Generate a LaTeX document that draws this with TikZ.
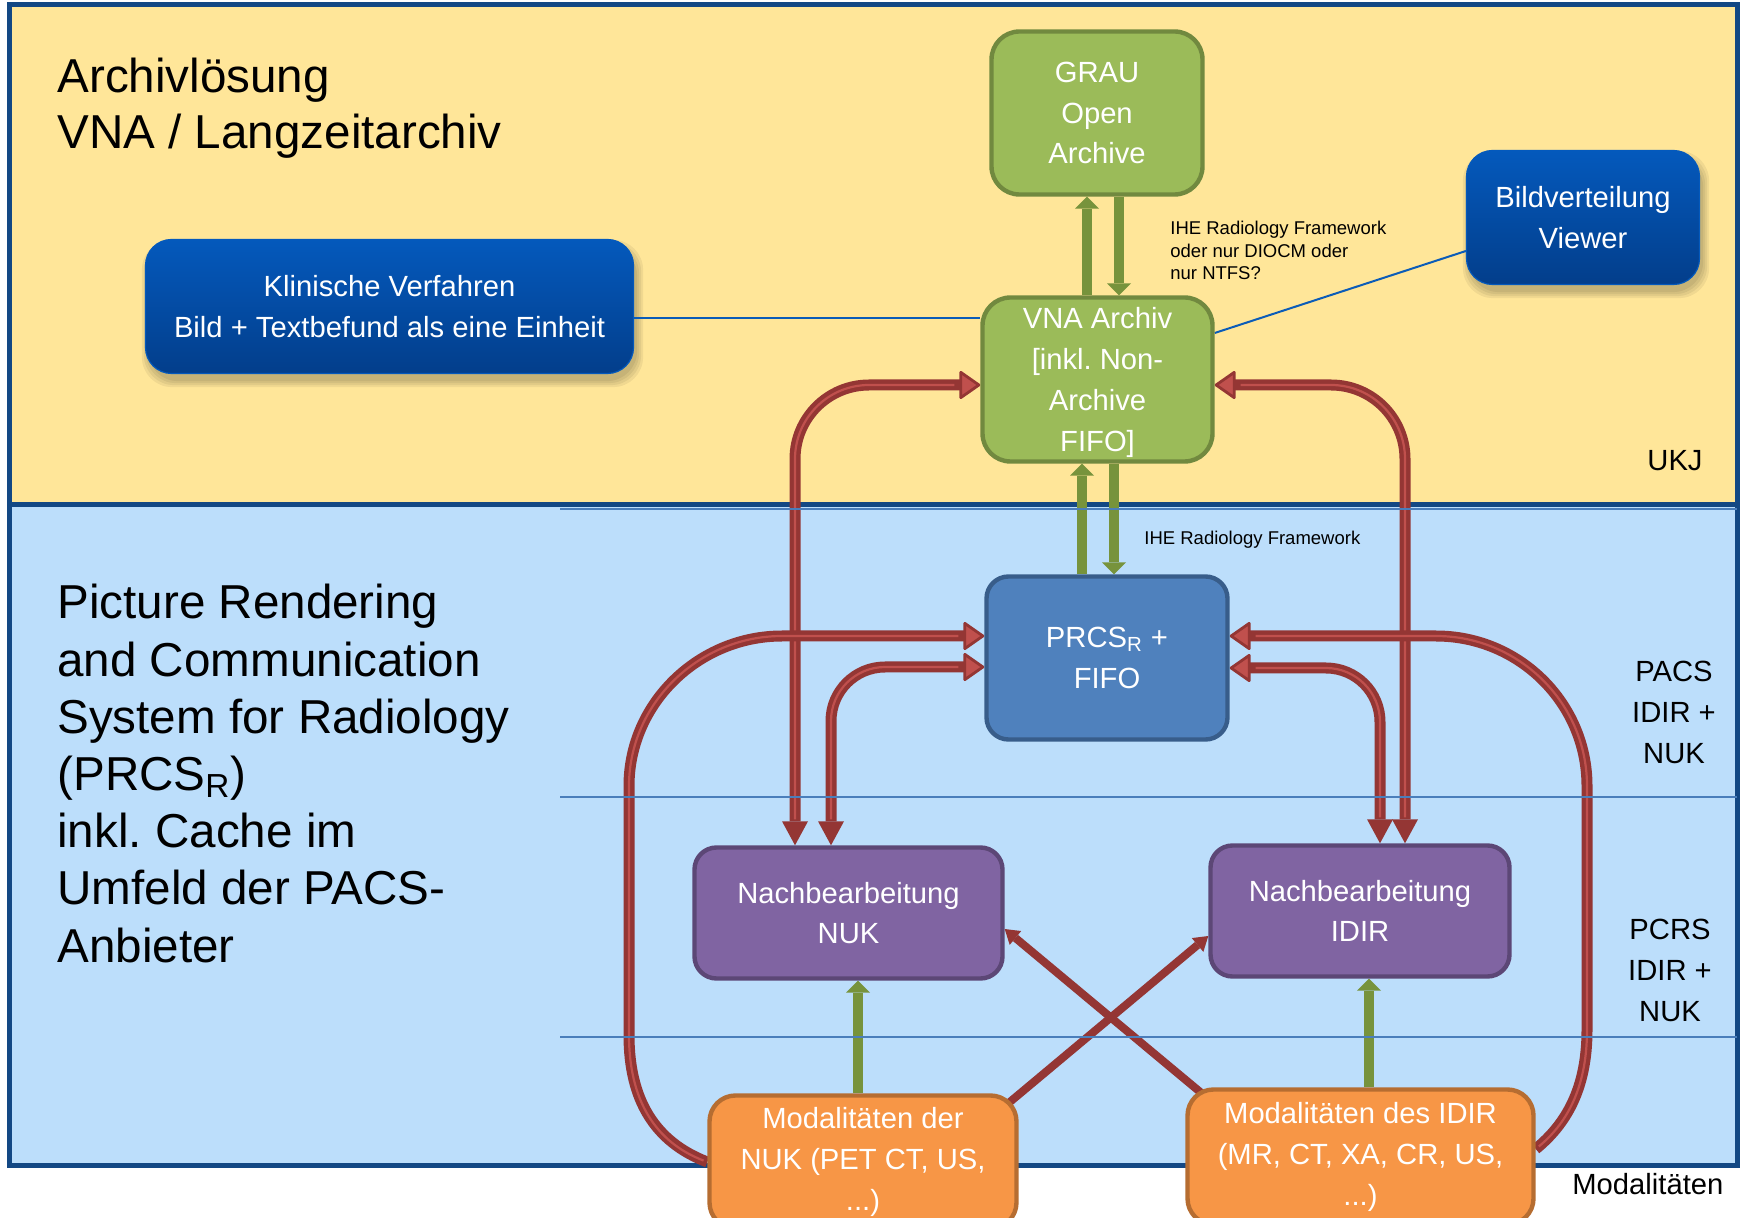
\documentclass[tikz,border=0pt]{standalone}
\usepackage{fontspec}
\setmainfont{Liberation Sans}
\usetikzlibrary{arrows.meta,calc}
\frenchspacing

\definecolor{goldbg}{HTML}{FFE699}
\definecolor{skybg}{HTML}{BCDEFB}
\definecolor{navyframe}{HTML}{134884}
\definecolor{zonecol}{HTML}{4A7EBB}
\definecolor{linkblue}{HTML}{0B5CB8}
\definecolor{boxblueTop}{HTML}{0459BC}
\definecolor{boxblueBot}{HTML}{033E8B}
\definecolor{greenfill}{HTML}{9BBB59}
\definecolor{greenedge}{HTML}{71893F}
\definecolor{greenarrow}{HTML}{77933C}
\definecolor{prcsfill}{HTML}{4F81BD}
\definecolor{prcsedge}{HTML}{385D8A}
\definecolor{violetfill}{HTML}{8064A2}
\definecolor{violetedge}{HTML}{5C4776}
\definecolor{orangefill}{HTML}{F79646}
\definecolor{orangeedge}{HTML}{B66D31}
\definecolor{reddark}{HTML}{943634}
\definecolor{redlight}{HTML}{C0504D}

\newcommand{\fntBox}{\fontsize{14.6}{20.4}\selectfont}
\newcommand{\fntNote}{\fontsize{9.25}{11.25}\selectfont}
\newcommand{\fntTitleA}{\fontsize{23.8}{28}\selectfont}
\newcommand{\fntTitleB}{\fontsize{23.8}{28.6}\selectfont}

\pgfdeclarelayer{bg}
\pgfdeclarelayer{links}
\pgfsetlayers{bg,links,main}

\tikzset{
  box/.style={shape=rectangle, rounded corners=11pt, line width=2.2pt, text=white,
    font=\fntBox, align=center, inner sep=0pt},
  greenbox/.style={box, fill=greenfill, draw=greenedge, rounded corners=14pt},
  prcsbox/.style={box, fill=prcsfill, draw=prcsedge},
  violetbox/.style={box, fill=violetfill, draw=violetedge},
  orangebox/.style={box, fill=orangefill, draw=orangeedge, rounded corners=13pt},
  navybox/.style={box, rounded corners=13pt, line width=0.6pt, draw=boxblueTop,
    top color=boxblueTop, bottom color=boxblueBot},
  softshadow/.style={fill=black, fill opacity=0.06, rounded corners=15pt},
  sidelabel/.style={font=\fntBox, text=black, align=center, inner sep=0pt},
  notelabel/.style={font=\fntNote, text=black, align=left, inner sep=0pt},
  titlelabel/.style={text=black, align=left, inner sep=0pt},
  greenlink/.style={draw=greenarrow, line width=5pt,
    -{Triangle[length=6pt, width=12pt, line width=0pt]}},
  redtipA/.tip={Triangle[length=11pt, width=15pt, line width=1.4pt, fill=redlight, round]},
  redtipB/.tip={Triangle[length=12pt, width=13pt, line width=0pt]},
  redloop/.style={draw=reddark, line width=5.5pt,
    postaction={draw=redlight, line width=1.1pt, arrows=-, shorten <=#1, shorten >=13pt}},
  redloop/.default=13pt,
  crosslink/.style={draw=reddark, line width=4pt,
    -{Triangle[length=7pt, width=9pt, line width=0pt]}},
  linkline/.style={draw=linkblue, line width=1pt},
  zoneline/.style={draw=zonecol, line width=1pt},
  panel/.style={draw=navyframe, line width=2.5pt},
}

\begin{document}
\begin{tikzpicture}[x=0.5pt, y=-0.5pt]
\useasboundingbox (0,0) rectangle (1740,1218);

% two zones of the system landscape
\begin{pgfonlayer}{bg}
  \path[panel, fill=goldbg] (9,4.5) rectangle (1737,505);
  \path[panel, fill=skybg] (9,505) rectangle (1737,1165);
\end{pgfonlayer}

% zone headings
\node[titlelabel, font=\fntTitleA, anchor=north west] (archtitle) at (57,58)
  {Archivlösung\\VNA / Langzeitarchiv};
\node[titlelabel, font=\fntTitleB, anchor=north west] (prcstitle) at (57,584)
  {Picture Rendering\\and Communication\\System for Radiology\\(PRCS\textsubscript{R})\\inkl. Cache im\\Umfeld der PACS-\\Anbieter};

% systems
\node[greenbox, minimum width=105.5pt, minimum height=81.5pt] (grau) at (1097,113)
  {GRAU\\Open\\Archive};
\node[greenbox, minimum width=115pt, minimum height=82pt] (vna) at (1097.5,379.5)
  {VNA Archiv\\{[}inkl. Non-\\Archive\\FIFO\smash{]}};
\node[navybox, minimum width=244pt, minimum height=67pt] (klin) at (389.5,306.5)
  {Klinische Verfahren\\Bild + Textbefund als eine Einheit};
\node[navybox, minimum width=116.5pt, minimum height=67pt] (bild) at (1583,217.5)
  {Bildverteilung\\Viewer};
\node[prcsbox, minimum width=120.5pt, minimum height=81.5pt] (prcs) at (1107,658)
  {PRCS\textsubscript{R} +\\FIFO};
\node[violetbox, minimum width=154pt, minimum height=65.5pt] (nnuk) at (848.5,913)
  {Nachbearbeitung\\NUK};
\node[violetbox, minimum width=149.5pt, minimum height=65.5pt] (nidir) at (1360,911)
  {Nachbearbeitung\\IDIR};
\node[orangebox, minimum width=153.5pt, minimum height=66.5pt] (mnuk) at (863,1162)
  {Modalitäten der\\NUK (PET CT, US,\\...)};
\node[orangebox, minimum width=173pt, minimum height=67.5pt] (midir) at (1360.5,1157)
  {Modalitäten des IDIR\\(MR, CT, XA, CR, US,\\...)};

% labels
\node[notelabel, anchor=north west] (ihetop) at (1170,221)
  {IHE Radiology Framework\\oder nur DIOCM oder\\nur NTFS?};
\node[notelabel, anchor=base west] (ihelow) at (1144,545) {IHE Radiology Framework};
\node[sidelabel, anchor=base west] (ukj) at (1647,471) {UKJ};
\node[sidelabel, anchor=north] (pacs) at (1674,661) {PACS\\IDIR +\\NUK};
\node[sidelabel, anchor=north] (pcrs) at (1670,919) {PCRS\\IDIR +\\NUK};
\node[sidelabel, anchor=base west] (modal) at (1572,1194) {Modalitäten};

\begin{pgfonlayer}{links}
  % soft shadows under the two dark blue boxes
  \foreach \g in {0,2,4,6} {
    \path[softshadow] ($(klin.south west)+(3-\g,7+\g)$) rectangle ($(klin.north east)+(3+\g,7-\g)$);
    \path[softshadow] ($(bild.south west)+(3-\g,7+\g)$) rectangle ($(bild.north east)+(3+\g,7-\g)$);
  }

  % plain associations
  \draw[linkline] (klin.east |- 0,318) -- (vna.west |- 0,318);
  \draw[linkline] (bild.west |- 0,251) -- (vna.east |- 0,333);

  % IHE transfers
  \draw[greenlink] (1087,0 |- vna.north) -- (1087,0 |- grau.south);
  \draw[greenlink] (1119,0 |- grau.south) -- (1119,0 |- vna.north);
  \draw[greenlink] (1082,0 |- prcs.north) -- (1082,0 |- vna.south);
  \draw[greenlink] (1114,0 |- vna.south) -- (1114,0 |- prcs.north);
  \draw[greenlink] (858,0 |- mnuk.north) -- (858,0 |- nnuk.south);
  \draw[greenlink] (1369,0 |- midir.north) -- (1369,0 |- nidir.south);

  % post-processing round trips
  \draw[redloop, rounded corners=37pt, {redtipB}-{redtipA}]
    (795,0 |- nnuk.north) |- (vna.west |- 0,385);
  \draw[redloop, rounded corners=27pt, {redtipB}-{redtipA}]
    (831,0 |- nnuk.north) |- (prcs.west |- 0,667);
  \draw[redloop, rounded corners=37pt, {redtipB}-{redtipA}]
    (1405,0 |- nidir.north) |- (vna.east |- 0,385);
  \draw[redloop, rounded corners=27pt, {redtipB}-{redtipA}]
    (1380,0 |- nidir.north) |- (prcs.east |- 0,668);

  % modalities straight to the PRCS
  \draw[redloop=2pt, -{redtipA}]
    (mnuk.west) .. controls (655,1142) and (629,1100) .. (629,1035)
    -- (629,786) .. controls (629,703) and (699,636) .. (782,636)
    -- (prcs.west |- 0,636);
  \draw[redloop=2pt, -{redtipA}]
    ($(midir.east)+(0,-8)$) .. controls (1565,1125) and (1587,1090) .. (1587,1030)
    -- (1587,786) .. controls (1587,703) and (1519,636) .. (1436,636)
    -- (prcs.east |- 0,636);

  % cross-wise post-processing
  \draw[crosslink] ($(midir.north west)+(20,9)$) -- ($(nnuk.east)+(0,16)$);
  \draw[crosslink] ($(mnuk.north east)+(-14,13)$) -- ($(nidir.west)+(0,25)$);

  % zone separators
  \draw[zoneline] (560,509) -- (1737,509);
  \draw[zoneline] (560,797) -- (1737,797);
  \draw[zoneline] (560,1037) -- (1737,1037);
\end{pgfonlayer}
\end{tikzpicture}
\end{document}
